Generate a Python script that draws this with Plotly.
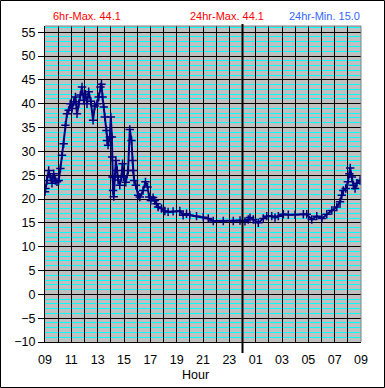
import plotly.graph_objects as go

# hours after 09:00
hours = [0.00, 0.03, 0.15, 0.28, 0.41, 0.53, 0.66, 0.79, 0.91, 1.04, 1.17, 1.29, 1.42, 1.55,
         1.67, 1.80, 1.93, 2.05, 2.18, 2.31, 2.43, 2.56, 2.69, 2.81, 2.94, 3.07, 3.19, 3.32,
         3.48, 3.65, 3.78, 3.95, 4.08, 4.21, 4.29, 4.37, 4.46, 4.54, 4.67, 4.71, 4.79, 4.92,
         5.00, 5.08, 5.10, 5.13, 5.17, 5.22, 5.30, 5.38, 5.48, 5.55, 5.68, 5.81, 5.89, 5.98,
         6.14, 6.31, 6.44, 6.57, 6.65, 6.69, 6.77, 6.90, 7.07, 7.20, 7.45, 7.63, 7.79, 7.91,
         8.04, 8.21, 8.34, 8.47, 8.59, 8.85, 9.10, 9.35, 9.73, 10.24, 10.49, 10.75, 11.00,
         11.51, 12.02, 12.40, 12.78, 13.54, 14.30, 14.81, 15.19, 15.44, 15.57, 15.82, 16.20,
         16.58, 16.84, 17.22, 17.47, 17.72, 18.10, 18.48, 18.99, 19.62, 19.88, 20.26, 20.64,
         21.03, 21.40, 21.78, 22.16, 22.41, 22.54, 22.66, 22.84, 23.00, 23.12, 23.18, 23.30,
         23.42, 23.55, 23.68, 23.93, 24.00]
temps = [21.5, 22.2, 23.9, 26.0, 24.6, 23.3, 25.3, 23.9, 23.6, 23.9, 26.4, 29.2, 31.6, 35.5,
         37.9, 38.6, 40.0, 39.0, 40.4, 41.4, 37.9, 40.0, 41.8, 43.5, 40.7, 42.0, 40.0, 42.5,
         40.5, 36.5, 39.5, 40.0, 41.4, 43.5, 44.1, 41.4, 39.3, 37.2, 34.4, 32.3, 31.3, 33.0,
         37.2, 33.0, 28.8, 24.6, 21.8, 20.5, 24.6, 28.1, 26.0, 24.0, 22.9, 24.6, 27.4, 24.6,
         23.5, 26.0, 34.6, 32.3, 28.1, 26.0, 23.9, 22.9, 20.8, 20.4, 21.8, 23.6, 22.5, 20.4,
         19.7, 20.3, 19.7, 19.0, 18.3, 18.0, 17.5, 17.3, 17.4, 17.5, 16.6, 16.9, 16.6,
         16.4, 16.2, 15.9, 15.4, 15.4, 15.4, 15.5, 15.3, 15.7, 16.1, 15.7, 15.0,
         15.9, 16.4, 16.4, 16.1, 16.4, 16.8, 16.7, 16.7, 16.8, 16.8, 15.7, 16.4,
         15.9, 16.8, 17.6, 18.3, 19.4, 20.8, 21.8, 22.2, 23.6, 25.3, 26.5, 24.6,
         22.9, 22.2, 23.3, 23.9, 23.9]

x_tickvals = list(range(0, 25))
x_ticklabels = ["09", "", "11", "", "13", "", "15", "", "17", "", "19", "", "21", "", "23", "",
                "01", "", "03", "", "05", "", "07", "", "09"]
y_tickvals = [-10, -5, 0, 5, 10, 15, 20, 25, 30, 35, 40, 45, 50, 55]
headers = ["6hr-Max. 44.1", "24hr-Max. 44.1", "24hr-Min. 15.0"]
midnight = 15

FONT = "Liberation Sans, Arial, sans-serif"
W, H = 385, 388
L, R, T, B = 45, 24, 26, 46
pw, ph = W - L - R, H - T - B


def px(xpix):
    return (xpix - L) / pw


def py(ypix):
    return (H - B - ypix) / ph


fig = go.Figure()
fig.add_trace(go.Scatter(
    x=hours, y=temps, mode="lines+markers",
    line=dict(color="#000080", width=2),
    marker=dict(symbol="cross-thin", size=6, line=dict(color="#000080", width=1.5)),
    showlegend=False, hoverinfo="x+y"))

fig.update_layout(
    width=W, height=H,
    margin=dict(l=L, r=R, t=T, b=B),
    paper_bgcolor="white", plot_bgcolor="#C0C0C0",
    font=dict(family=FONT, size=12, color="black"),
    xaxis=dict(range=[0, 24], tickmode="array", tickvals=x_tickvals, ticktext=x_ticklabels,
               showgrid=True, gridcolor="black", gridwidth=1, zeroline=False,
               showline=True, linecolor="black", linewidth=1,
               ticks="outside", ticklen=6, tickcolor="rgba(0,0,0,0)",
               tickfont=dict(size=12.5), fixedrange=True),
    yaxis=dict(range=[-10, 56.3], tickmode="array", tickvals=y_tickvals,
               showgrid=True, gridcolor="black", gridwidth=1, zeroline=False,
               showline=True, linecolor="black", linewidth=1,
               ticks="outside", ticklen=6, tickcolor="black",
               tickfont=dict(size=12.5),
               minor=dict(dtick=1, tick0=0, showgrid=True, gridcolor="#00FFFF", gridwidth=1, ticks=""),
               fixedrange=True),
)

# plot-area border (top/right grey)
fig.add_shape(type="line", xref="paper", yref="paper", x0=0, x1=1, y0=1, y1=1,
              line=dict(color="#808080", width=1))
fig.add_shape(type="line", xref="paper", yref="paper", x0=1, x1=1, y0=0, y1=1,
              line=dict(color="#808080", width=1))
# midnight marker
fig.add_shape(type="line", xref="x", yref="paper", x0=midnight, x1=midnight,
              y0=py(353), y1=py(24), line=dict(color="black", width=2))
# outer frame
fig.add_shape(type="rect", xref="paper", yref="paper", x0=px(0.5), x1=px(W - 0.5),
              y0=py(H - 0.5), y1=py(0.5), line=dict(color="black", width=1))

fig.add_annotation(text=headers[0], xref="paper", yref="paper", x=px(87), y=py(15.5),
                   showarrow=False, font=dict(size=11, color="#FF0000"), xanchor="center", yanchor="middle")
fig.add_annotation(text=headers[1], xref="paper", yref="paper", x=px(227), y=py(15.5),
                   showarrow=False, font=dict(size=11, color="#FF0000"), xanchor="center", yanchor="middle")
fig.add_annotation(text=headers[2], xref="paper", yref="paper", x=px(324), y=py(15.5),
                   showarrow=False, font=dict(size=11, color="#3366FF"), xanchor="center", yanchor="middle")
fig.add_annotation(text="Hour", xref="paper", yref="paper", x=px(195), y=py(375),
                   showarrow=False, font=dict(size=12.5, color="black"), xanchor="center", yanchor="middle")

fig.write_html("out.html", config={"displayModeBar": False, "staticPlot": True},
               post_script="document.body.style.margin='0';document.body.style.padding='0';"
                           "document.body.style.overflow='hidden';")
